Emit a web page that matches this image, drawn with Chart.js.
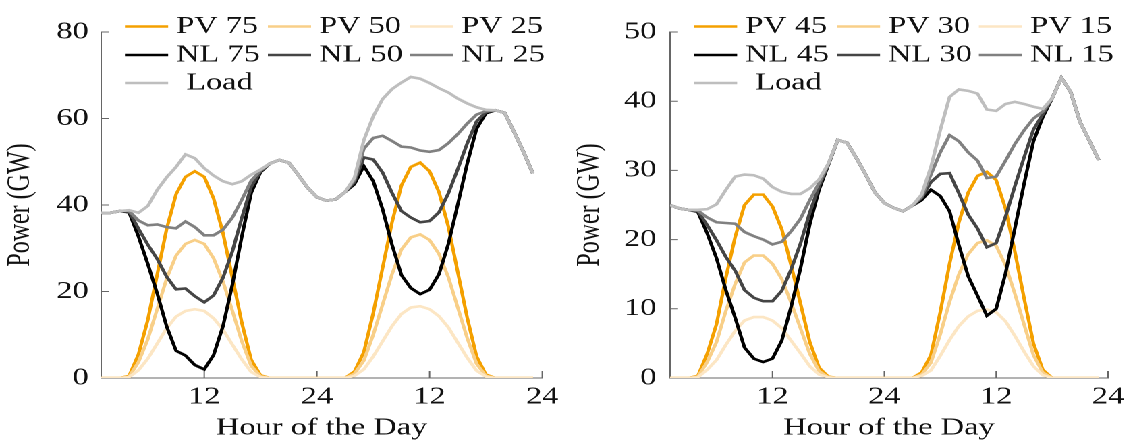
<!DOCTYPE html>
<html>
<head>
<meta charset="utf-8">
<title>PV and net load</title>
<script src="https://cdn.jsdelivr.net/npm/chart.js@4.4.1/dist/chart.umd.min.js"></script>
<style>
  html, body { margin: 0; padding: 0; background: #fff; overflow: hidden; }
  /* the reference figure is stretched sideways, so draw narrow and widen it */
  #stage { position: absolute; left: 0; top: 0; width: 838px; height: 441px;
           transform: scaleX(1.3496); transform-origin: 0 0; }
  .panel { position: absolute; top: 0; width: 419px; height: 441px; }
</style>
</head>
<body>
<div id="stage">
  <div class="panel" style="left:0"><canvas id="left"></canvas></div>
  <div class="panel" style="left:419px"><canvas id="right"></canvas></div>
</div>
<script>
// Hour index over two days (1..47)
const hours = [1,2,3,4,5,6,7,8,9,10,11,12,13,14,15,16,17,18,19,20,21,22,23,24,
  25,26,27,28,29,30,31,32,33,34,35,36,37,38,39,40,41,42,43,44,45,46,47]

const xTickValues = [12, 24, 36, 48]
const xTickLabels = ["12", "24", "12", "24"]
const leftYTicks = [0, 20, 40, 60, 80]
const rightYTicks = [0, 10, 20, 30, 40, 50]

const leftLabels = ["PV 75", "PV 50", "PV 25", "NL 75", "NL 50", "NL 25", "Load"]
const rightLabels = ["PV 45", "PV 30", "PV 15", "NL 45", "NL 30", "NL 15", "Load"]

// Left panel (GW)
const leftPv75 = [0,0,0,0.5,5.5,13.5,24,34.5,42.5,46.5,47.8,46.5,41.5,33.5,23.2,12.8,4.2,0.6,0,0,0,0,0,0,
  0,0,0,1.5,6,15,25.5,36,44.5,48.8,49.8,47.8,43,35,24.5,14,5,0.8,0,0,0,0,0]
const leftPv50 = [0,0,0,0.3,3.7,9,16,23,28.3,31,31.9,31,27.7,22.3,15.5,8.5,2.8,0.4,0,0,0,0,0,0,
  0,0,0,1,4,10,17,24,29.7,32.5,33.2,31.9,28.7,23.3,16.3,9.3,3.3,0.5,0,0,0,0,0]
const leftPv25 = [0,0,0,0.2,1.8,4.5,8,11.5,14.2,15.5,15.9,15.5,13.8,11.2,7.7,4.3,1.4,0.2,0,0,0,0,0,0,
  0,0,0,0.5,2,5,8.5,12,14.8,16.3,16.6,15.9,14.3,11.7,8.2,4.7,1.7,0.3,0,0,0,0,0]
const leftNl75 = [38.2,38.2,38.6,38.3,32.7,26.3,19.5,11.9,6.3,5.2,3.0,2.0,5.3,12.0,21.6,32.7,42.8,47.6,49.6,50.4,49.8,47.0,44.0,41.8,
  41.0,41.3,43.0,44.8,49.0,45.5,39.0,30.8,23.8,20.8,19.4,20.4,24.0,31.0,40.1,49.5,57.6,61.2,61.9,61.3,56.9,52.3,47.3]
const leftNl50 = [38.2,38.2,38.6,38.5,34.5,30.8,27.5,23.4,20.5,20.7,18.9,17.5,19.1,23.2,29.3,37.0,44.2,47.8,49.6,50.4,49.8,47.0,44.0,41.8,
  41.0,41.3,43.0,45.3,51.0,50.5,47.5,42.8,38.6,37.1,36.0,36.3,38.3,42.7,48.3,54.2,59.3,61.5,61.9,61.3,56.9,52.3,47.3]
const leftNl25 = [38.2,38.2,38.6,38.6,36.4,35.3,35.5,34.9,34.6,36.2,34.9,33.0,33.0,34.3,37.1,41.2,45.6,48.0,49.6,50.4,49.8,47.0,44.0,41.8,
  41.0,41.3,43.0,45.8,53.0,55.5,56.0,54.8,53.5,53.3,52.6,52.3,52.7,54.3,56.4,58.8,60.9,61.7,61.9,61.3,56.9,52.3,47.3]
const leftLoad = [38.2,38.2,38.6,38.8,38.2,39.8,43.5,46.4,48.8,51.7,50.8,48.5,46.8,45.5,44.8,45.5,47.0,48.2,49.6,50.4,49.8,47.0,44.0,41.8,
  41.0,41.3,43.0,46.3,55.0,60.5,64.5,66.8,68.3,69.6,69.2,68.2,67.0,66.0,64.6,63.5,62.6,62.0,61.9,61.3,56.9,52.3,47.3]

// Right panel (GW)
const rightPv45 = [0,0,0,0.3,3.5,7.8,14.5,20.4,25,26.5,26.5,24.8,21.5,16.3,10.8,5.2,1.5,0.2,0,0,0,0,0,0,
  0,0,0,0.8,3.3,9.5,16.5,22.5,26.8,29.2,29.8,28.6,24.5,18.3,11.5,5,1.2,0,0,0,0,0,0]
const rightPv30 = [0,0,0,0.2,2.3,5.2,9.7,13.6,16.7,17.7,17.7,16.5,14.3,10.9,7.2,3.5,1,0.1,0,0,0,0,0,0,
  0,0,0,0.5,2.2,6.3,11,15,17.9,19.5,19.9,19.1,16.3,12.2,7.7,3.3,0.8,0,0,0,0,0,0]
const rightPv15 = [0,0,0,0.1,1.2,2.6,4.8,6.8,8.3,8.8,8.8,8.3,7.2,5.4,3.6,1.7,0.5,0.1,0,0,0,0,0,0,
  0,0,0,0.3,1.1,3.2,5.5,7.5,8.9,9.7,9.9,9.5,8.2,6.1,3.8,1.7,0.4,0,0,0,0,0,0]
const rightNl45 = [25.0,24.5,24.3,24.0,20.9,17.3,12.7,8.7,4.4,2.8,2.3,2.8,5.4,10.3,15.8,22.2,27.2,30.8,34.4,34.0,31.8,29.4,26.8,25.3,
  24.6,24.1,24.9,25.7,27.2,26.3,24.1,19.2,14.7,11.9,9.0,10.0,15.1,21.6,28.1,34.2,37.7,40.4,43.4,41.3,37.0,34.3,31.5]
const rightNl30 = [25.0,24.5,24.3,24.1,22.1,19.9,17.5,15.5,12.7,11.6,11.1,11.1,12.6,15.7,19.4,23.9,27.7,30.9,34.4,34.0,31.8,29.4,26.8,25.3,
  24.6,24.1,24.9,26.0,28.3,29.5,29.6,26.7,23.6,21.6,18.9,19.5,23.3,27.7,31.9,35.9,38.1,40.4,43.4,41.3,37.0,34.3,31.5]
const rightNl15 = [25.0,24.5,24.3,24.2,23.2,22.5,22.4,22.3,21.1,20.5,20.0,19.3,19.7,21.2,23.0,25.7,28.2,30.9,34.4,34.0,31.8,29.4,26.8,25.3,
  24.6,24.1,24.9,26.2,29.4,32.6,35.1,34.2,32.6,31.4,28.9,29.1,31.4,33.8,35.8,37.5,38.5,40.4,43.4,41.3,37.0,34.3,31.5]
const rightLoad = [25.0,24.5,24.3,24.3,24.4,25.1,27.2,29.1,29.4,29.3,28.8,27.6,26.9,26.6,26.6,27.4,28.7,31.0,34.4,34.0,31.8,29.4,26.8,25.3,
  24.6,24.1,24.9,26.5,30.5,35.8,40.6,41.7,41.5,41.1,38.8,38.6,39.6,39.9,39.6,39.2,38.9,40.4,43.4,41.3,37.0,34.3,31.5]

const seriesColors = ["#f4a000", "#f8cf88", "#fce6c4", "#000000", "#454545", "#808080", "#bebebe"]
const axisColor = "#666666"
const FONT = "Liberation Serif"
const FONT_SIZE = 24

Chart.defaults.font.family = FONT
Chart.defaults.font.size = FONT_SIZE
Chart.defaults.color = "#111111"

// legend sits inside the plot, three columns (offsets from the y axis)
const legendCols = [17.8, 123.7, 228.9]
const legendRows = [26.5, 55, 83]

const panelLegend = {
  id: "panelLegend",
  afterDraw(chart) {
    const {ctx, chartArea} = chart
    ctx.save()
    ctx.font = `${FONT_SIZE}px "${FONT}"`
    ctx.textBaseline = "middle"
    ctx.fillStyle = "#111111"
    chart.data.datasets.forEach((ds, i) => {
      const x0 = chartArea.left + legendCols[i % 3]
      const y0 = legendRows[Math.floor(i / 3)]
      ctx.strokeStyle = ds.borderColor
      ctx.lineWidth = ds.borderWidth
      ctx.beginPath()
      ctx.moveTo(x0, y0)
      ctx.lineTo(x0 + 32, y0)
      ctx.stroke()
      ctx.fillText(ds.label, x0 + 38 + (i === 6 ? 7.4 : 0), y0)
    })
    ctx.restore()
  }
}

// pgfplots style: short ticks pointing into the plot
const innerTicks = {
  id: "innerTicks",
  beforeDatasetsDraw(chart) {
    const {ctx, chartArea: a, scales: {x, y}} = chart
    ctx.save()
    ctx.strokeStyle = axisColor
    ctx.lineWidth = 1
    ctx.beginPath()
    x.ticks.forEach(t => {
      const px = x.getPixelForValue(t.value)
      ctx.moveTo(px, a.bottom)
      ctx.lineTo(px, a.bottom - 7)
    })
    y.ticks.forEach(t => {
      const py = y.getPixelForValue(t.value)
      ctx.moveTo(a.left, py)
      ctx.lineTo(a.left + 6, py)
    })
    ctx.stroke()
    ctx.restore()
  }
}

const makeDatasets = (labels, series) => series.map((values, i) => ({
  label: labels[i],
  data: values.map((v, j) => ({x: hours[j], y: v})),
  borderColor: seriesColors[i],
  borderWidth: 2.6,
  pointRadius: 0,
  tension: 0,
  fill: false,
  order: series.length - i
}))

const buildOptions = (yTicks, frame) => ({
  responsive: true,
  maintainAspectRatio: false,
  devicePixelRatio: 2,
  animation: false,
  events: [],
  layout: {padding: {top: 32, right: frame.padRight, bottom: 0, left: 0}},
  plugins: {legend: {display: false}, tooltip: {enabled: false}},
  scales: {
    x: {
      type: "linear",
      min: 1,
      max: 48,
      afterBuildTicks: (s) => { s.ticks = xTickValues.map(v => ({value: v})) },
      afterFit: (s) => { s.height = 63 },
      ticks: {padding: 5, maxRotation: 0, autoSkip: false, callback: (v, i) => xTickLabels[i]},
      grid: {display: false, drawTicks: false},
      border: {display: true, color: axisColor, width: 1},
      title: {display: true, text: "Hour of the Day", font: {size: FONT_SIZE, lineHeight: 1}, padding: {top: 0, bottom: 1}}
    },
    y: {
      type: "linear",
      min: yTicks[0],
      max: yTicks[yTicks.length - 1],
      afterBuildTicks: (s) => { s.ticks = yTicks.map(v => ({value: v})) },
      afterFit: (s) => { s.width = frame.yWidth },
      ticks: {padding: frame.tickPad, callback: (v) => String(v)},
      grid: {display: false, drawTicks: false},
      border: {display: true, color: axisColor, width: 1},
      title: {display: true, text: "Power (GW)", font: {size: FONT_SIZE, lineHeight: 1.2}, padding: {top: frame.titlePad, bottom: 0}}
    }
  }
})

new Chart(document.getElementById("left"), {
  type: "line",
  data: {datasets: makeDatasets(leftLabels, [leftPv75, leftPv50, leftPv25, leftNl75, leftNl50, leftNl25, leftLoad])},
  options: buildOptions(leftYTicks, {yWidth: 74.8, padRight: 17.2, tickPad: 9, titlePad: 1}),
  plugins: [innerTicks, panelLegend]
})

new Chart(document.getElementById("right"), {
  type: "line",
  data: {datasets: makeDatasets(rightLabels, [rightPv45, rightPv30, rightPv15, rightNl45, rightNl30, rightNl15, rightLoad])},
  options: buildOptions(rightYTicks, {yWidth: 77.4, padRight: 14.8, tickPad: 10, titlePad: 4}),
  plugins: [innerTicks, panelLegend]
})
</script>
</body>
</html>
